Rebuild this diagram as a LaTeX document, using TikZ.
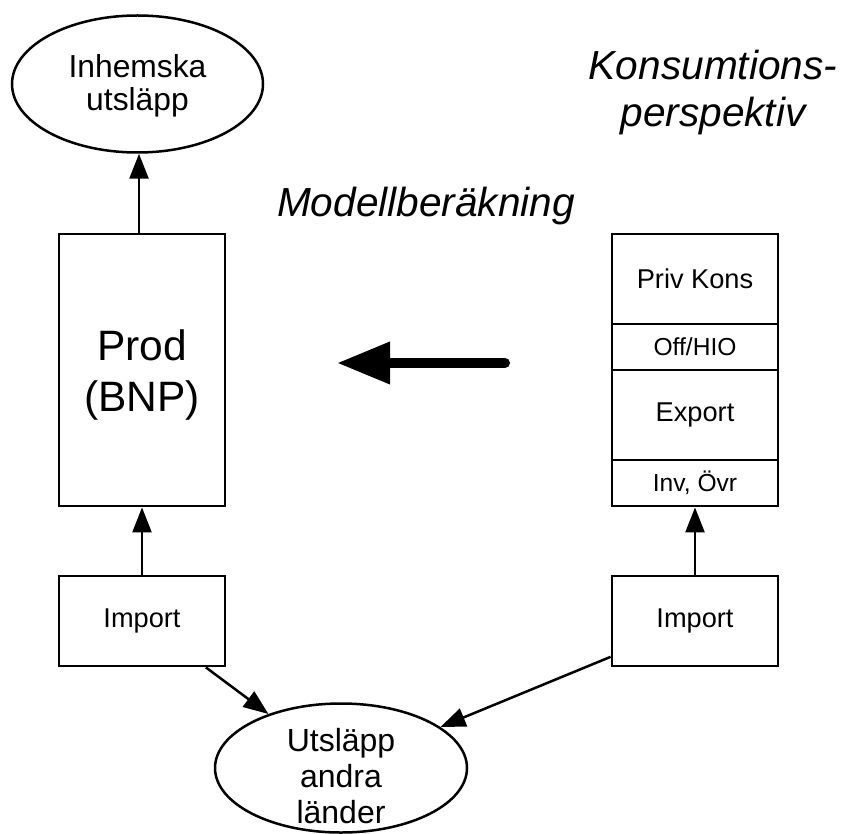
\documentclass[tikz,border=0pt]{standalone}
\usepackage{fontspec}
\setmainfont{Liberation Sans}
\usetikzlibrary{shapes.geometric,arrows.meta}
\tikzset{
  boxnode/.style={draw, line width=2.8pt, rectangle, inner sep=0pt, minimum width=166pt},
  ovalnode/.style={draw, line width=2.5pt, ellipse, inner sep=0pt, minimum width=251pt, minimum height=133pt},
  conn/.style={line width=2.5pt, -{Triangle[length=25pt,width=19pt]}},
  bigarrow/.style={line width=10pt, line cap=round, -{Triangle[length=53pt,width=40pt]}},
  txtbig/.style={font=\fontsize{42.5}{51}\selectfont, align=center},
  txtmid/.style={font=\fontsize{31.8}{34}\selectfont, align=center},
  txtsm/.style={font=\fontsize{27.2}{30}\selectfont},
  txtxs/.style={font=\fontsize{24.6}{28}\selectfont},
  txtit/.style={font=\fontsize{40.6}{47}\selectfont\itshape, align=center}
}
\begin{document}
\begin{tikzpicture}[x=1pt,y=-1pt]
\useasboundingbox (0,0) rectangle (845,834);
% ellipses
\node[ovalnode, minimum height=137pt] (inh) at (137.5,84) {};
\node[txtmid, font=\fontsize{31.8}{33}\selectfont] (inhtext) at (137.5,86) {Inhemska\\utsläpp};
\node[ovalnode, minimum width=252pt, minimum height=129pt] (uts) at (341,768) {};
\node[txtmid, font=\fontsize{32}{36}\selectfont] (utstext) at (341,776) {Utsläpp\\andra\\länder};
% left column
\node[boxnode, minimum height=272pt] (prod) at (142,370) {};
\node[txtbig] (prodtext) at (142,375) {Prod\\(BNP)};
\node[boxnode, minimum height=90pt, txtsm] (impL) at (142,621) {Import};
% right stack
\node[boxnode, minimum height=90pt, txtsm] (priv) at (695,279) {Priv Kons};
\node[boxnode, minimum height=46pt, txtxs] (off) at (695,347) {Off/HIO};
\node[boxnode, minimum height=90pt, txtsm] (exp) at (695,415) {Export};
\node[boxnode, minimum height=46pt, txtxs] (inv) at (695,483) {Inv, Övr};
\node[boxnode, minimum height=90pt, txtsm] (impR) at (695,621) {Import};
% italic labels
\node[txtit, anchor=base] (modell) at (426,217) {Modellberäkning};
\node[txtit] (kons) at (713,93) {Konsumtions-\\perspektiv};
% connectors
\draw[conn] ([xshift=-3pt]prod.north) -- ([xshift=-3pt]prod.north |- inh.south);
\draw[conn] (impL.north) -- (prod.south);
\draw[conn] (impR.north) -- (inv.south);
\draw[conn] (impL.-36) -- (uts);
\draw[conn] (impR.203) -- (uts);
% big arrow
\coordinate (bs) at (505,363);
\coordinate (be) at (337,363);
\draw[bigarrow] (bs) -- (be);
\end{tikzpicture}
\end{document}
